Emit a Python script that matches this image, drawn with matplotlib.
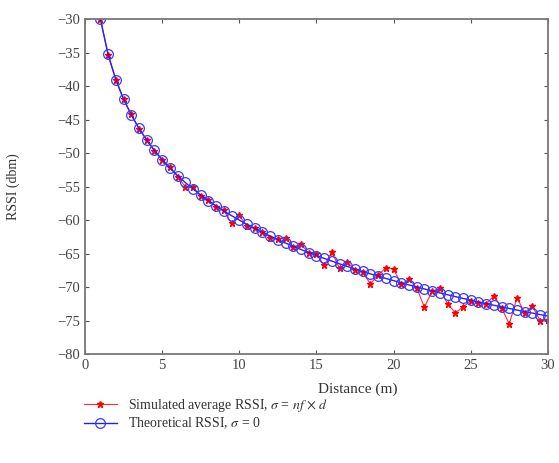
import matplotlib
matplotlib.use("Agg")
import matplotlib.pyplot as plt

# distances (m), step 0.5
distance = [1, 1.5, 2, 2.5, 3, 3.5, 4, 4.5, 5, 5.5, 6, 6.5, 7, 7.5, 8, 8.5, 9, 9.5, 10,
            10.5, 11, 11.5, 12, 12.5, 13, 13.5, 14, 14.5, 15, 15.5, 16, 16.5, 17, 17.5,
            18, 18.5, 19, 19.5, 20, 20.5, 21, 21.5, 22, 22.5, 23, 23.5, 24, 24.5, 25,
            25.5, 26, 26.5, 27, 27.5, 28, 28.5, 29, 29.5, 30]

# simulated average RSSI
rssi_sim = [-30.0, -35.4, -39.1, -42.0, -44.2, -46.4, -48.0, -49.7, -51.0, -52.1,
            -53.5, -55.0, -55.1, -56.4, -57.0, -58.0, -58.5, -60.5, -59.3, -60.9,
            -61.2, -61.7, -62.6, -62.8, -62.6, -64.0, -63.6, -64.9, -65.1, -66.7,
            -64.8, -67.2, -66.3, -67.4, -67.8, -69.5, -68.2, -67.1, -67.3, -69.6,
            -68.8, -70.1, -73.0, -70.6, -70.2, -72.5, -73.8, -73.0, -72.0, -72.3,
            -72.5, -71.3, -73.1, -75.5, -71.6, -73.8, -72.8, -75.0, -74.9]

# theoretical RSSI
rssi_theo = [-30.00, -35.28, -39.03, -41.94, -44.31, -46.32, -48.06, -49.60, -50.97, -52.21,
             -53.35, -54.39, -55.35, -56.25, -57.09, -57.88, -58.63, -59.33, -60.00, -60.64,
             -61.24, -61.82, -62.38, -62.91, -63.42, -63.91, -64.38, -64.84, -65.28, -65.71,
             -66.12, -66.52, -66.91, -67.29, -67.66, -68.02, -68.36, -68.70, -69.03, -69.35,
             -69.67, -69.97, -70.27, -70.57, -70.85, -71.13, -71.41, -71.68, -71.94, -72.20,
             -72.45, -72.70, -72.94, -73.18, -73.42, -73.64, -73.87, -74.09, -74.31]

x_ticks = [0, 5, 10, 15, 20, 25, 30]
y_ticks = [-80, -75, -70, -65, -60, -55, -50, -45, -40, -35, -30]

plt.rcParams['font.family'] = ['Liberation Serif', 'DejaVu Serif']
plt.rcParams['mathtext.fontset'] = 'stix'

fig = plt.figure(figsize=(5.59, 4.63), dpi=100)
ax = fig.add_axes([0.152, 0.235, 0.828, 0.724])

ax.plot(distance, rssi_sim, color='#ff3030', lw=0.8, marker='*', ms=5,
        mec='red', mfc='red', label=r'Simulated average RSSI, $\sigma$ = $nf$ $\times$ $d$')
ax.plot(distance, rssi_theo, color='#2020ff', lw=1.0, marker='o', ms=7,
        mfc='none', mec='#3a3aff', mew=0.9, label=r'Theoretical RSSI, $\sigma$ = 0')

ax.set_xlim(0, 30)
ax.set_ylim(-80, -30)
ax.set_xticks(x_ticks)
ax.set_yticks(y_ticks)
ax.set_yticklabels([f"\u2212{abs(v)}" for v in y_ticks])
ax.tick_params(direction='in', top=True, right=True, labelsize=10.5, length=3,
               color='#555555', labelcolor='#444444')
for s in ax.spines.values():
    s.set_color('#777777')
    s.set_linewidth(1.3)

ax.set_xlabel('Distance (m)', fontsize=11, color='#333333')
ax.xaxis.set_label_coords(0.59, -0.085)
ax.set_ylabel('RSSI (dbm)', fontsize=10, color='#333333')
ax.yaxis.set_label_coords(-0.14, 0.5)

fig.legend(loc='upper left', bbox_to_anchor=(0.14, 0.155), frameon=False,
           fontsize=10, handlelength=2.4, labelspacing=0.15, borderaxespad=0,
           labelcolor='#333333')

fig.savefig('out.png', dpi=100)
